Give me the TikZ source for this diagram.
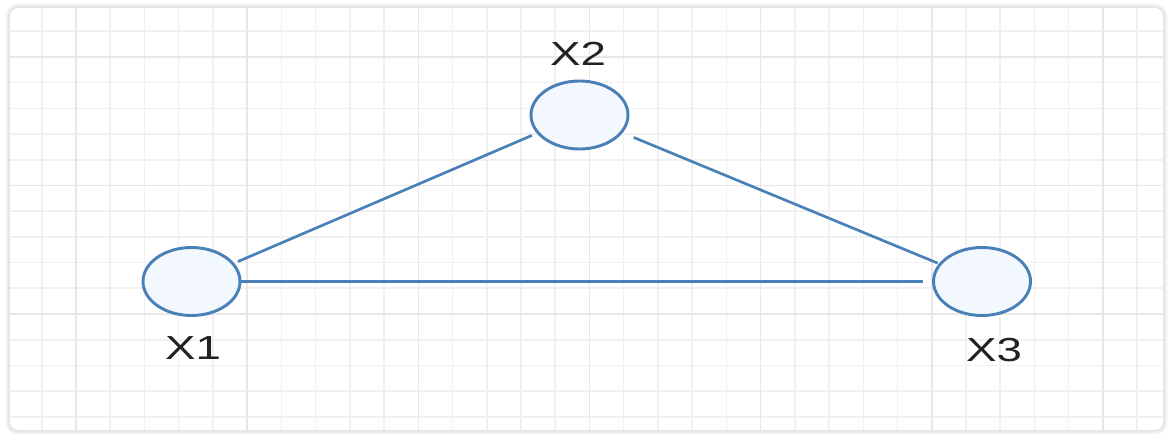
\documentclass[tikz,border=0pt]{standalone}
\usepackage{fontspec}
\setmainfont{Liberation Sans}
\usepackage{tikz}
\usetikzlibrary{shapes.geometric,positioning}
\definecolor{NodeBlue}{RGB}{74,128,184}
\definecolor{NodeFill}{RGB}{243,248,255}
\definecolor{GridMinor}{RGB}{240,240,240}
\definecolor{GridMajor}{RGB}{231,231,231}
\definecolor{LabelGray}{RGB}{34,34,34}

\begin{document}
\begin{tikzpicture}[x=0.75pt,y=-0.75pt,
		varnode/.style={ellipse,draw=NodeBlue,fill=NodeFill,line width=2.2pt,minimum width=72.75pt,minimum height=51pt,inner sep=0pt},
		varlabel/.style={text=LabelGray,font=\fontsize{25}{30}\selectfont,xscale=1.37,inner sep=0pt},
		link/.style={NodeBlue,line width=2pt}]
			\useasboundingbox (0,0) rectangle (1169,434);
			\foreach \s in {1,...,6}
				\draw[black,opacity=0.02,line width=\s*1.2pt,rounded corners=6pt] (10,8) rectangle (1163,430);
			\fill[white,rounded corners=6pt] (10,8) rectangle (1163,430);
			\begin{scope}
				\clip[rounded corners=6pt] (10,8) rectangle (1163,430);
				\foreach \i in {-1,...,31}
					\draw[GridMinor,line width=1.2pt] ({76+34.23*\i},8) -- ({76+34.23*\i},430);
				\foreach \j in {-1,...,14}
					\draw[GridMinor,line width=1.2pt] (10,{57+25.7*\j}) -- (1163,{57+25.7*\j});
				\foreach \i in {0,5,...,30}
					\draw[GridMajor,line width=1.2pt] ({76+34.23*\i},8) -- ({76+34.23*\i},430);
				\foreach \j in {0,5,10}
					\draw[GridMajor,line width=1.2pt] (10,{57+25.7*\j}) -- (1163,{57+25.7*\j});
			\end{scope}
			\node[varnode] (x1) at (191.5,281.5) {};
			\node[varnode] (x2) at (579.5,115) {};
			\node[varnode] (x3) at (982,281.5) {};
			\draw[link,shorten <=3pt,shorten >=4pt] (x1) -- (x2);
			\draw[link,shorten <=9pt,shorten >=1pt] (x2) -- (x3);
			\draw[link,shorten >=7pt] (x1) -- (x3);
			\node[varlabel] (lblx1) at (193,348) {X1};
			\node[varlabel] (lblx2) at (578,54) {X2};
			\node[varlabel] (lblx3) at (994,350) {X3};
		\end{tikzpicture}
\end{document}
